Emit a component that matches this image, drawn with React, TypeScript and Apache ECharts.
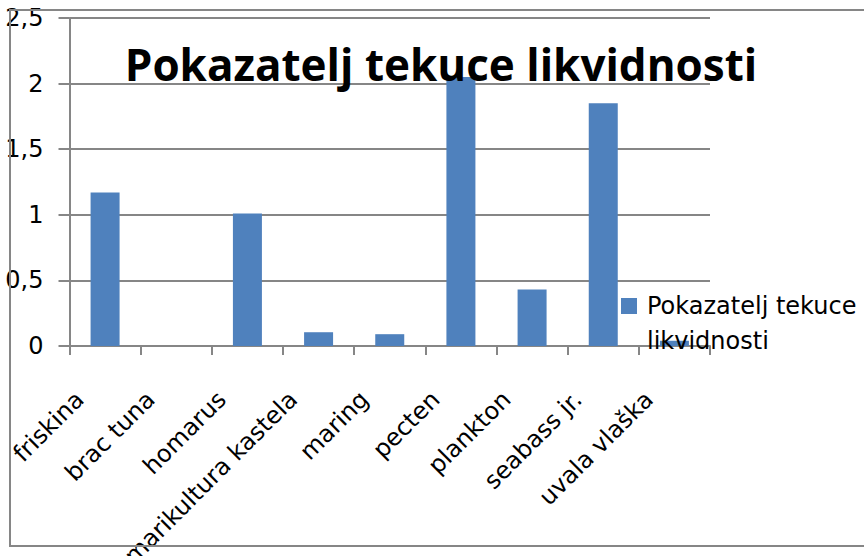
import React, { useEffect, useRef } from "react";
import * as echarts from "echarts";

const categories = [
  "friskina",
  "brac tuna",
  "homarus",
  "marikultura kastela",
  "maring",
  "pecten",
  "plankton",
  "seabass jr.",
  "uvala vlaška",
];
const seriesName = "Pokazatelj tekuce likvidnosti";
const values = [1.17, 0, 1.01, 0.105, 0.09, 2.05, 0.43, 1.85, 0.04];
const yTicks = { min: 0, max: 2.5, interval: 0.5 };

export default function App() {
  const ref = useRef<HTMLDivElement>(null);
  useEffect(() => {
    if (!ref.current) return;
    const chart = echarts.init(ref.current, undefined, { renderer: "svg" });
    const gray = "#868686";
    chart.setOption({
      animation: false,
      backgroundColor: "#ffffff",
      title: {
        text: seriesName,
        left: 436,
        textAlign: "center",
        top: 37,
        textStyle: {
          fontFamily: "Open Sans",
          fontWeight: "bold",
          fontSize: 44,
          color: "#000000",
        },
        z: 10,
      },
      legend: {
        left: 616,
        top: 248.5,
        itemWidth: 16,
        itemHeight: 16,
        icon: "rect",
        formatter: () => "\nPokazatelj tekuce\nlikvidnosti",
        textStyle: {
          fontFamily: "DejaVu Sans",
          fontSize: 24,
          color: "#000000",
          lineHeight: 35,
          padding: [0, 0, 0, 5],
        },
        z: 10,
      },
      grid: {
        left: 69.5,
        right: 154,
        top: 18,
        bottom: 210,
        containLabel: false,
        outerBoundsMode: "none",
      },
      xAxis: {
        type: "category",
        data: categories,
        axisLine: { show: true, lineStyle: { color: gray, width: 2 } },
        axisTick: { show: true, length: 9, lineStyle: { color: gray, width: 2 } },
        axisLabel: {
          rotate: 45,
          interval: 0,
          margin: 24,
          padding: [0, 36, 0, 0],
          fontFamily: "DejaVu Sans",
          fontSize: 24,
          color: "#000000",
        },
      },
      yAxis: {
        type: "value",
        min: yTicks.min,
        max: yTicks.max,
        interval: yTicks.interval,
        axisLine: { show: true, lineStyle: { color: gray, width: 2 } },
        axisTick: { show: true, length: 11, lineStyle: { color: gray, width: 2 } },
        splitLine: { show: true, lineStyle: { color: gray, width: 2 } },
        axisLabel: {
          margin: 26,
          fontFamily: "DejaVu Sans",
          fontSize: 24,
          color: "#000000",
          formatter: (v: number) => String(v).replace(".", ","),
        },
      },
      series: [
        {
          name: seriesName,
          type: "bar",
          data: values,
          barWidth: 29,
          itemStyle: { color: "#4F81BD" },
        },
      ],
      graphic: [
        {
          type: "rect",
          z: 100,
          silent: true,
          shape: { x: 10, y: 10, width: 880, height: 536 },
          style: { fill: "none", stroke: gray, lineWidth: 2 },
        },
      ],
    });
    return () => chart.dispose();
  }, []);
  return (
    <div
      ref={ref}
      style={{ position: "absolute", left: 0, top: 0, width: 864, height: 556 }}
    />
  );
}
